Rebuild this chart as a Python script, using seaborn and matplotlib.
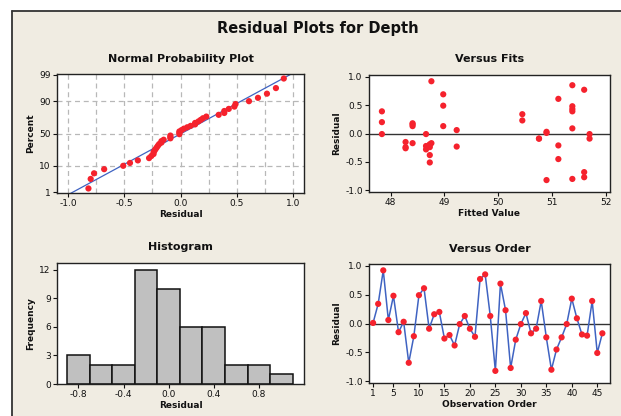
import numpy as np
import pandas as pd
import matplotlib
matplotlib.use("Agg")
import matplotlib.pyplot as plt
import seaborn as sns
from statistics import NormalDist
from matplotlib.patches import Rectangle
from matplotlib.lines import Line2D

# ---------------- data ----------------
observation = list(range(1, 47))
residuals = [0.01, 0.34, 0.92, 0.06, 0.48, -0.15, 0.03, -0.68, -0.22, 0.49,
             0.61, -0.09, 0.16, 0.20, -0.26, -0.20, -0.38, -0.01, 0.13, -0.09,
             -0.23, 0.77, 0.85, 0.13, -0.82, 0.69, 0.23, -0.77, -0.28, -0.01,
             0.18, -0.17, -0.09, 0.39, -0.24, -0.80, -0.45, -0.24, -0.01, 0.43,
             0.09, -0.19, -0.21, 0.39, -0.51, -0.17]
fitted = [50.90, 50.45, 48.76, 49.23, 51.38, 48.28, 50.90, 51.60, 48.66, 48.98,
          51.12, 50.76, 48.41, 47.84, 48.28, 48.73, 48.73, 51.70, 48.41, 51.70,
          49.23, 51.60, 51.38, 48.98, 50.90, 48.98, 50.45, 51.60, 48.66, 47.84,
          48.41, 48.41, 50.76, 47.84, 48.73, 51.38, 51.12, 48.28, 48.66, 51.38,
          51.38, 48.73, 51.12, 51.38, 48.73, 48.76]
hist_bins = [-0.9, -0.7, -0.5, -0.3, -0.1, 0.1, 0.3, 0.5, 0.7, 0.9, 1.1]
pct_ticks = [1, 10, 50, 90, 99]
resid_ticks = [-1.0, -0.5, 0.0, 0.5, 1.0]
fit_ticks = [48, 49, 50, 51, 52]
order_ticks = [1, 5, 10, 15, 20, 25, 30, 35, 40, 45]
hist_xticks = [-0.8, -0.4, 0.0, 0.4, 0.8]
hist_yticks = [0, 3, 6, 9, 12]
prob_xticks = [-1.0, -0.5, 0.0, 0.5, 1.0]

df = pd.DataFrame({"obs": observation, "resid": residuals, "fit": fitted})

# normal probability data (Minitab median ranks)
nd = NormalDist()
n = len(residuals)
srt = np.sort(np.array(residuals))
p = (np.arange(1, n + 1) - 0.3) / (n + 0.4)
z = np.array([nd.inv_cdf(v) for v in p])
prob_df = pd.DataFrame({"resid": srt, "z": z})
mu = float(np.mean(residuals))
sd = float(np.std(residuals, ddof=1))
zline = np.array([nd.inv_cdf(0.005), nd.inv_cdf(0.995)])
line_df = pd.DataFrame({"x": mu + sd * zline, "z": zline})

# ---------------- style ----------------
sns.set_theme(style="white")
plt.rcParams["font.family"] = ["DejaVu Sans"]
plt.rcParams["axes.unicode_minus"] = False

BG = "#f0ece2"
RED = "#f5222d"
BLUE = "#3f63c2"
TXT = "#111111"

W, H = 621, 416
fig = plt.figure(figsize=(W / 100, H / 100), dpi=100)
fig.patch.set_facecolor("white")
fig.patches.append(Rectangle((12 / W, 0), 1, 1 - 11 / H, transform=fig.transFigure,
                             facecolor=BG, edgecolor="none", zorder=-10))
fig.lines.append(Line2D([12 / W, 12 / W], [0, 1 - 11 / H], transform=fig.transFigure,
                        color="#333333", lw=1.3))
fig.lines.append(Line2D([12 / W, 1], [1 - 11 / H, 1 - 11 / H], transform=fig.transFigure,
                        color="#333333", lw=1.3))

def axrect(x0, y0, x1, y1):
    return [x0 / W, 1 - y1 / H, (x1 - x0) / W, (y1 - y0) / H]

ax1 = fig.add_axes(axrect(57, 74, 304, 193))
ax2 = fig.add_axes(axrect(369, 75, 610, 192))
ax3 = fig.add_axes(axrect(57, 263, 304, 384))
ax4 = fig.add_axes(axrect(369, 264, 610, 383))

fig.text(318 / W, 1 - 29 / H, "Residual Plots for Depth", ha="center", va="center",
         fontsize=10.5, fontweight="bold", color=TXT)

def style(ax, title, xlabel, ylabel):
    ax.set_facecolor("white")
    for s in ax.spines.values():
        s.set_color("#222222")
        s.set_linewidth(1.0)
    ax.tick_params(axis="both", which="major", labelsize=6.5, length=3, width=0.8,
                   colors=TXT, pad=1.5, direction="out", bottom=True, left=True)
    ax.set_title(title, fontsize=8, fontweight="bold", color=TXT, pad=9)
    ax.set_xlabel(xlabel, fontsize=6.5, fontweight="bold", color=TXT, labelpad=1)
    ax.set_ylabel(ylabel, fontsize=6.5, fontweight="bold", color=TXT, labelpad=3)

# ---- Normal probability plot ----
for gx in np.arange(-1.0, 1.01, 0.25):
    ax1.axvline(gx, color="#b8b8b8", lw=0.9, ls=(0, (4, 3)), zorder=0)
for gp in [10, 50, 90]:
    ax1.axhline(nd.inv_cdf(gp / 100), color="#b8b8b8", lw=0.9, ls=(0, (4, 3)), zorder=0)
sns.lineplot(data=line_df, x="x", y="z", ax=ax1, color=BLUE, lw=0.9, zorder=2)
sns.scatterplot(data=prob_df, x="resid", y="z", ax=ax1, color=RED, s=20,
                edgecolor="none", zorder=3)
ax1.set_xlim(-1.1, 1.1)
ax1.set_ylim(nd.inv_cdf(0.01) - 0.02, nd.inv_cdf(0.99) + 0.02)
ax1.set_yticks([nd.inv_cdf(v / 100) for v in pct_ticks])
ax1.set_yticklabels([str(v) for v in pct_ticks])
ax1.set_xticks(prob_xticks)
ax1.set_xticklabels([f"{v:.1f}" for v in prob_xticks])
style(ax1, "Normal Probability Plot", "Residual", "Percent")

# ---- Versus Fits ----
ax2.axhline(0, color="#333333", lw=1.0, zorder=1)
sns.scatterplot(data=df, x="fit", y="resid", ax=ax2, color=RED, s=20,
                edgecolor="none", zorder=3)
ax2.set_xlim(47.6, 52.08)
ax2.set_ylim(-1.03, 1.03)
ax2.set_xticks(fit_ticks)
ax2.set_yticks(resid_ticks)
ax2.set_yticklabels([f"{v:.1f}" for v in resid_ticks])
style(ax2, "Versus Fits", "Fitted Value", "Residual")

# ---- Histogram ----
sns.histplot(data=df, x="resid", bins=hist_bins, ax=ax3, color="#c0c0c0",
             edgecolor="#111111", linewidth=1.1, alpha=1.0)
ax3.set_xlim(-0.99, 1.2)
ax3.set_ylim(0, 12.7)
ax3.set_xticks(hist_xticks)
ax3.set_xticklabels([f"{v:.1f}" for v in hist_xticks])
ax3.set_yticks(hist_yticks)
style(ax3, "Histogram", "Residual", "Frequency")

# ---- Versus Order ----
ax4.axhline(0, color="#333333", lw=1.0, zorder=1)
sns.lineplot(data=df, x="obs", y="resid", ax=ax4, color=BLUE, lw=1.1, zorder=2)
sns.scatterplot(data=df, x="obs", y="resid", ax=ax4, color=RED, s=20,
                edgecolor="none", zorder=3)
ax4.set_xlim(0.2, 47.5)
ax4.set_ylim(-1.03, 1.03)
ax4.set_xticks(order_ticks)
ax4.set_yticks(resid_ticks)
ax4.set_yticklabels([f"{v:.1f}" for v in resid_ticks])
style(ax4, "Versus Order", "Observation Order", "Residual")

fig.savefig("out.png", dpi=100, facecolor=fig.get_facecolor())
